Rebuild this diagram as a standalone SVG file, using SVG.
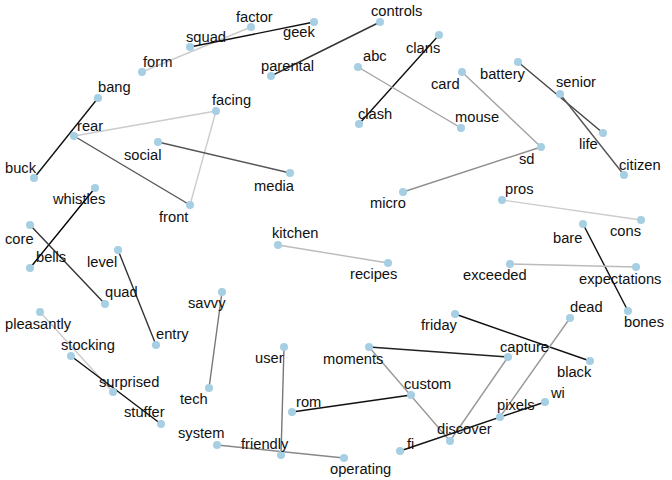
<svg xmlns="http://www.w3.org/2000/svg" width="672" height="480" viewBox="0 0 672 480">
<style>
.e{fill:none;stroke-width:1.4;stroke-linecap:round}
.n circle{fill:#a6cfe3}
text{font-family:"Liberation Sans",Arial,sans-serif;font-size:14.7px;fill:#111}
</style>
<rect width="672" height="480" fill="#fff"/>
<g id="connectors">
<line class="e" x1="142" y1="72" x2="251" y2="27" stroke="#cccccc"/>
<line class="e" x1="190" y1="47" x2="314" y2="22" stroke="#111"/>
<line class="e" x1="271" y1="76" x2="380" y2="22" stroke="#333"/>
<line class="e" x1="439" y1="35" x2="359" y2="124" stroke="#111"/>
<line class="e" x1="358" y1="67" x2="461" y2="128" stroke="#a3a3a3"/>
<line class="e" x1="462" y1="72" x2="541" y2="147" stroke="#a3a3a3"/>
<line class="e" x1="403" y1="192" x2="541" y2="147" stroke="#8f8f8f"/>
<line class="e" x1="518" y1="62" x2="603" y2="133" stroke="#444"/>
<line class="e" x1="560" y1="94" x2="624" y2="175" stroke="#555"/>
<line class="e" x1="98" y1="98" x2="34" y2="178" stroke="#111"/>
<line class="e" x1="74" y1="136" x2="216" y2="111" stroke="#cccccc"/>
<line class="e" x1="216" y1="111" x2="190" y2="205" stroke="#cccccc"/>
<line class="e" x1="74" y1="136" x2="190" y2="205" stroke="#555"/>
<line class="e" x1="158" y1="142" x2="290" y2="173" stroke="#555"/>
<line class="e" x1="95" y1="188" x2="30" y2="268" stroke="#000"/>
<line class="e" x1="30" y1="225" x2="105" y2="304" stroke="#333"/>
<line class="e" x1="118" y1="250" x2="156" y2="345" stroke="#333"/>
<line class="e" x1="222" y1="292" x2="209" y2="388" stroke="#777"/>
<line class="e" x1="40" y1="312" x2="113" y2="392" stroke="#cccccc"/>
<line class="e" x1="71" y1="356" x2="161" y2="424" stroke="#111"/>
<line class="e" x1="278" y1="245" x2="388" y2="263" stroke="#bbbbbb"/>
<line class="e" x1="502" y1="200" x2="641" y2="220" stroke="#cccccc"/>
<line class="e" x1="583" y1="224" x2="628" y2="311" stroke="#111"/>
<line class="e" x1="510" y1="264" x2="636" y2="267" stroke="#bbbbbb"/>
<line class="e" x1="455" y1="314" x2="590" y2="361" stroke="#111"/>
<line class="e" x1="369" y1="347" x2="508" y2="357" stroke="#222"/>
<line class="e" x1="369" y1="347" x2="450" y2="441" stroke="#999"/>
<line class="e" x1="411" y1="395" x2="292" y2="412" stroke="#111"/>
<line class="e" x1="508" y1="357" x2="450" y2="441" stroke="#999"/>
<line class="e" x1="570" y1="318" x2="500" y2="417" stroke="#999"/>
<line class="e" x1="545" y1="402" x2="400" y2="451" stroke="#111"/>
<line class="e" x1="284" y1="347" x2="281" y2="455" stroke="#777"/>
<line class="e" x1="217" y1="445" x2="344" y2="458" stroke="#888"/>
</g>
<g class="n">
<g id="n-factor"><circle cx="251" cy="27" r="4"/><text x="236" y="22">factor</text></g>
<g id="n-squad"><circle cx="190" cy="47" r="4"/><text x="186" y="42">squad</text></g>
<g id="n-geek"><circle cx="314" cy="22" r="4"/><text x="283" y="37">geek</text></g>
<g id="n-controls"><circle cx="380" cy="22" r="4"/><text x="371" y="16">controls</text></g>
<g id="n-form"><circle cx="142" cy="72" r="4"/><text x="143" y="67">form</text></g>
<g id="n-parental"><circle cx="271" cy="76" r="4"/><text x="261" y="71">parental</text></g>
<g id="n-clans"><circle cx="439" cy="35" r="4"/><text x="406" y="53">clans</text></g>
<g id="n-abc"><circle cx="358" cy="67" r="4"/><text x="363" y="61">abc</text></g>
<g id="n-card"><circle cx="462" cy="72" r="4"/><text x="431" y="89">card</text></g>
<g id="n-battery"><circle cx="518" cy="62" r="4"/><text x="480" y="79">battery</text></g>
<g id="n-senior"><circle cx="560" cy="94" r="4"/><text x="556" y="87">senior</text></g>
<g id="n-mouse"><circle cx="461" cy="128" r="4"/><text x="455" y="122">mouse</text></g>
<g id="n-clash"><circle cx="359" cy="124" r="4"/><text x="358" y="119">clash</text></g>
<g id="n-bang"><circle cx="98" cy="98" r="4"/><text x="98" y="92">bang</text></g>
<g id="n-facing"><circle cx="216" cy="111" r="4"/><text x="212" y="105">facing</text></g>
<g id="n-rear"><circle cx="74" cy="136" r="4"/><text x="77" y="131">rear</text></g>
<g id="n-social"><circle cx="158" cy="142" r="4"/><text x="124" y="160">social</text></g>
<g id="n-media"><circle cx="290" cy="173" r="4"/><text x="254" y="191">media</text></g>
<g id="n-buck"><circle cx="34" cy="178" r="4"/><text x="5" y="173">buck</text></g>
<g id="n-whistles"><circle cx="95" cy="188" r="4"/><text x="53" y="204">whistles</text></g>
<g id="n-front"><circle cx="190" cy="205" r="4"/><text x="159" y="222">front</text></g>
<g id="n-micro"><circle cx="403" cy="192" r="4"/><text x="370" y="208">micro</text></g>
<g id="n-sd"><circle cx="541" cy="147" r="4"/><text x="519" y="164">sd</text></g>
<g id="n-life"><circle cx="603" cy="133" r="4"/><text x="579" y="149">life</text></g>
<g id="n-citizen"><circle cx="624" cy="175" r="4"/><text x="619" y="170">citizen</text></g>
<g id="n-pros"><circle cx="502" cy="200" r="4"/><text x="505" y="194">pros</text></g>
<g id="n-cons"><circle cx="641" cy="220" r="4"/><text x="610" y="236">cons</text></g>
<g id="n-bare"><circle cx="583" cy="224" r="4"/><text x="553" y="243">bare</text></g>
<g id="n-core"><circle cx="30" cy="225" r="4"/><text x="5" y="244">core</text></g>
<g id="n-kitchen"><circle cx="278" cy="245" r="4"/><text x="272" y="238">kitchen</text></g>
<g id="n-recipes"><circle cx="388" cy="263" r="4"/><text x="350" y="279">recipes</text></g>
<g id="n-bells"><circle cx="30" cy="268" r="4"/><text x="36" y="262">bells</text></g>
<g id="n-level"><circle cx="118" cy="250" r="4"/><text x="87" y="267">level</text></g>
<g id="n-quad"><circle cx="105" cy="304" r="4"/><text x="105" y="297">quad</text></g>
<g id="n-savvy"><circle cx="222" cy="292" r="4"/><text x="188" y="308">savvy</text></g>
<g id="n-pleasantly"><circle cx="40" cy="312" r="4"/><text x="5" y="329">pleasantly</text></g>
<g id="n-entry"><circle cx="156" cy="345" r="4"/><text x="156" y="339">entry</text></g>
<g id="n-stocking"><circle cx="71" cy="356" r="4"/><text x="61" y="350">stocking</text></g>
<g id="n-surprised"><circle cx="113" cy="392" r="4"/><text x="99" y="387">surprised</text></g>
<g id="n-tech"><circle cx="209" cy="388" r="4"/><text x="180" y="404">tech</text></g>
<g id="n-stuffer"><circle cx="161" cy="424" r="4"/><text x="124" y="417">stuffer</text></g>
<g id="n-system"><circle cx="217" cy="445" r="4"/><text x="178" y="438">system</text></g>
<g id="n-exceeded"><circle cx="510" cy="264" r="4"/><text x="463" y="280">exceeded</text></g>
<g id="n-expectations"><circle cx="636" cy="267" r="4"/><text x="579" y="284">expectations</text></g>
<g id="n-bones"><circle cx="628" cy="311" r="4"/><text x="624" y="327">bones</text></g>
<g id="n-dead"><circle cx="570" cy="318" r="4"/><text x="570" y="312">dead</text></g>
<g id="n-friday"><circle cx="455" cy="314" r="4"/><text x="421" y="330">friday</text></g>
<g id="n-capture"><circle cx="508" cy="357" r="4"/><text x="500" y="352">capture</text></g>
<g id="n-black"><circle cx="590" cy="361" r="4"/><text x="557" y="377">black</text></g>
<g id="n-user"><circle cx="284" cy="347" r="4"/><text x="255" y="363">user</text></g>
<g id="n-moments"><circle cx="369" cy="347" r="4"/><text x="323" y="364">moments</text></g>
<g id="n-custom"><circle cx="411" cy="395" r="4"/><text x="404" y="389">custom</text></g>
<g id="n-rom"><circle cx="292" cy="412" r="4"/><text x="296" y="407">rom</text></g>
<g id="n-wi"><circle cx="545" cy="402" r="4"/><text x="551" y="398">wi</text></g>
<g id="n-pixels"><circle cx="500" cy="417" r="4"/><text x="497" y="410">pixels</text></g>
<g id="n-discover"><circle cx="450" cy="441" r="4"/><text x="437" y="434">discover</text></g>
<g id="n-friendly"><circle cx="281" cy="455" r="4"/><text x="241" y="449">friendly</text></g>
<g id="n-fi"><circle cx="400" cy="451" r="4"/><text x="407" y="449">fi</text></g>
<g id="n-operating"><circle cx="344" cy="458" r="4"/><text x="330" y="474">operating</text></g>
</g>
</svg>
